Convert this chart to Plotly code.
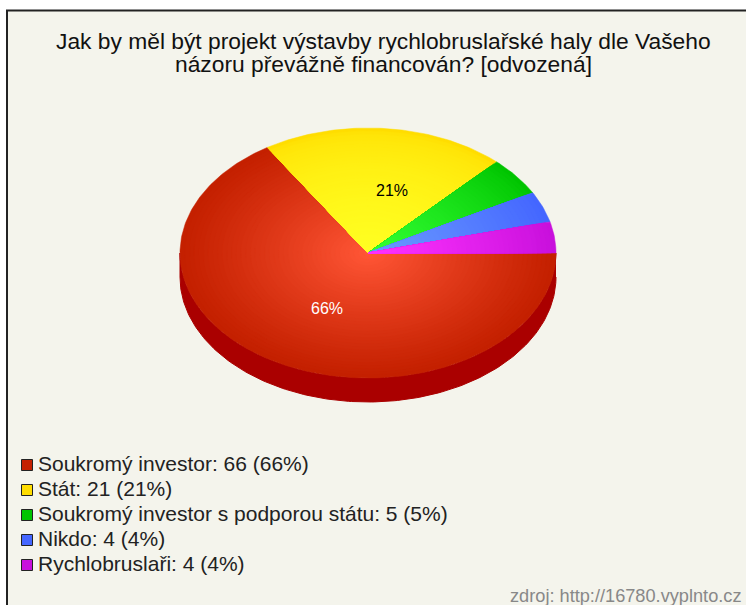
import numpy as np
import plotly.graph_objects as go

title_lines = ["Jak by měl být projekt výstavby rychlobruslařské haly dle Vašeho",
               "názoru převážně financován? [odvozená]"]
categories = ["Soukromý investor", "Stát", "Soukromý investor s podporou státu", "Nikdo", "Rychlobruslaři"]
values = [66, 21, 5, 4, 4]
edge_colors = ["#c42000", "#ffdd00", "#00c400", "#4466ff", "#c810dc"]
centre_colors = ["#ff5535", "#ffff22", "#33ff33", "#6a9aff", "#ff33ff"]
shade_power = [1.1, 0.5, 0.8, 0.9, 0.9]
source = "zdroj: http://16780.vyplnto.cz"

CX, CY, RX, RY, DEPTH = 368, 253, 188, 125, 24
RINGS = 40
BG = "#f4f4ec"


def hex_rgb(h):
    return np.array([int(h[i:i + 2], 16) for i in (1, 3, 5)], dtype=float)


def mix(a, b, t):
    c = hex_rgb(a) * (1 - t) + hex_rgb(b) * t
    return "rgb(%d,%d,%d)" % tuple(c.round())


total = sum(values)
fractions = np.cumsum([0] + values) / total
fig = go.Figure()

# side wall (only the front half is visible)
t = np.radians(np.linspace(0, 180, 181))
wx = CX + RX * np.cos(t)
wy = CY + RY * np.sin(t)
fig.add_trace(go.Scatter(
    x=np.r_[wx, wx[::-1]], y=np.r_[wy, wy[::-1] + DEPTH], mode="lines",
    fill="toself", fillcolor="#aa0000", line=dict(color="#aa0000", width=1),
    hoverinfo="skip", showlegend=False))

# top face: each slice drawn as shrinking copies to give the radial shading
for i, name in enumerate(categories):
    a0, a1 = 2 * np.pi * fractions[i], 2 * np.pi * fractions[i + 1]
    arc = np.linspace(a0, a1, max(8, int(values[i] * 4)))
    for k in range(RINGS):
        s = 1 - k / RINGS
        col = mix(edge_colors[i], centre_colors[i], (k / (RINGS - 1)) ** shade_power[i])
        fig.add_trace(go.Scatter(
            x=np.r_[CX, CX + s * RX * np.cos(arc), CX],
            y=np.r_[CY, CY + s * RY * np.sin(arc), CY],
            mode="lines", fill="toself", fillcolor=col,
            line=dict(color=col, width=0.5), name=name,
            hoverinfo="skip", showlegend=False))

# percentage labels on the two biggest slices
label_x = [327, 392]
label_y = [310, 192]
fig.add_trace(go.Scatter(
    x=label_x, y=label_y, mode="text",
    text=[f"{round(100 * v / total)}%" for v in values[:2]],
    textfont=dict(family="Liberation Sans", size=16, color=["#ffffff", "#000000"]),
    hoverinfo="skip", showlegend=False))

# legend
legend_x = [27] * len(values)
legend_text_x = [38] * len(values)
legend_y = [465 + 25 * i for i in range(len(values))]
fig.add_trace(go.Scatter(
    x=legend_x, y=legend_y, mode="markers",
    marker=dict(symbol="square", size=11, color=edge_colors, line=dict(color="#222222", width=1)),
    hoverinfo="skip", showlegend=False))
fig.add_trace(go.Scatter(
    x=legend_text_x, y=[v + 1 for v in legend_y], mode="text",
    text=[f"{c}: {v} ({round(100 * v / total)}%)" for c, v in zip(categories, values)],
    textposition="middle right",
    textfont=dict(family="Liberation Sans", size=21, color="#222222"),
    hoverinfo="skip", showlegend=False))

fig.update_layout(
    width=746, height=605, autosize=False,
    margin=dict(l=0, r=0, t=0, b=0),
    paper_bgcolor="#ffffff", plot_bgcolor="#ffffff",
    showlegend=False,
    xaxis=dict(range=[0, 746], visible=False, fixedrange=True),
    yaxis=dict(range=[605, 0], visible=False, fixedrange=True),
    shapes=[
        dict(type="rect", layer="below", x0=7, x1=746, y0=11, y1=605,
             fillcolor=BG, line=dict(width=0)),
        dict(type="line", layer="below", x0=7, x1=7, y0=10, y1=605, line=dict(color="#222222", width=2)),
        dict(type="line", layer="below", x0=6, x1=746, y0=10.5, y1=10.5, line=dict(color="#222222", width=2)),
    ],
    annotations=[
        dict(x=383.5, y=41, xref="x", yref="y", text=title_lines[0], showarrow=False,
             font=dict(family="Liberation Sans", size=22.8, color="#111111")),
        dict(x=383.5, y=64, xref="x", yref="y", text=title_lines[1], showarrow=False,
             font=dict(family="Liberation Sans", size=22.8, color="#111111")),
        dict(x=744, y=596, xref="x", yref="y", text=source, showarrow=False,
             xanchor="right", font=dict(family="Liberation Sans", size=18.2, color="#888888")),
    ],
)

fig.write_html("out.html", config={"displayModeBar": False},
               post_script="document.body.style.margin='0';")
